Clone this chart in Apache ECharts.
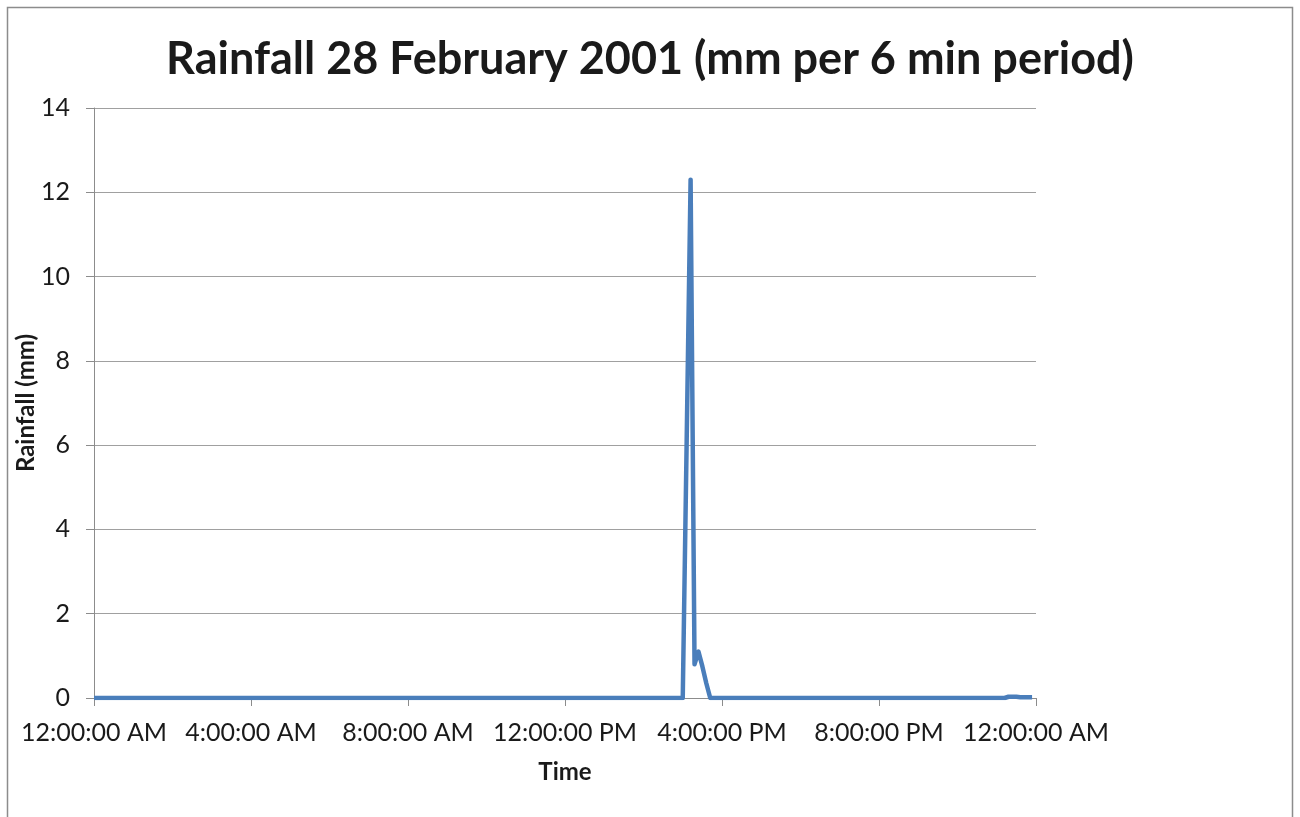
<!DOCTYPE html>
<html><head><meta charset="utf-8">
<script src="https://cdn.jsdelivr.net/npm/echarts@6/dist/echarts.min.js"></script>
<style>html,body{margin:0;padding:0;background:#fff}#c{width:1300px;height:817px}</style>
</head><body><div id="c"></div>
<script>
const titleText = 'Rainfall 28 February 2001 (mm per 6 min period)';
const yAxisName = 'Rainfall (mm)';
const xAxisName = 'Time';
// time of day in minutes for each 6-minute period start: 0, 6, ... 1434
const periodMinutes = 6;
// rainfall (mm) per 6 min period, 240 periods, 10 per row (one hour per row)
const rainfall = [
 0,0,0,0,0,0,0,0,0,0, // 00
 0,0,0,0,0,0,0,0,0,0, // 01
 0,0,0,0,0,0,0,0,0,0, // 02
 0,0,0,0,0,0,0,0,0,0, // 03
 0,0,0,0,0,0,0,0,0,0, // 04
 0,0,0,0,0,0,0,0,0,0, // 05
 0,0,0,0,0,0,0,0,0,0, // 06
 0,0,0,0,0,0,0,0,0,0, // 07
 0,0,0,0,0,0,0,0,0,0, // 08
 0,0,0,0,0,0,0,0,0,0, // 09
 0,0,0,0,0,0,0,0,0,0, // 10
 0,0,0,0,0,0,0,0,0,0, // 11
 0,0,0,0,0,0,0,0,0,0, // 12
 0,0,0,0,0,0,0,0,0,0, // 13
 0,0,0,0,0,0,0,0,0,0, // 14
 0,6.1,12.3,0.8,1.1,0.75,0.35,0,0,0, // 15
 0,0,0,0,0,0,0,0,0,0, // 16
 0,0,0,0,0,0,0,0,0,0, // 17
 0,0,0,0,0,0,0,0,0,0, // 18
 0,0,0,0,0,0,0,0,0,0, // 19
 0,0,0,0,0,0,0,0,0,0, // 20
 0,0,0,0,0,0,0,0,0,0, // 21
 0,0,0,0,0,0,0,0,0,0, // 22
 0,0,0,0.03,0.03,0.03,0.02,0.02,0.02,0.02 // 23
];
const xTickLabels = ['12:00:00 AM','4:00:00 AM','8:00:00 AM','12:00:00 PM','4:00:00 PM','8:00:00 PM','12:00:00 AM'];
const yTicks = [0,2,4,6,8,10,12,14];

const data = rainfall.map((v,i)=>[i*periodMinutes, v]);
const chart = echarts.init(document.getElementById('c'));
const font = 'Lato, "Open Sans", sans-serif';
chart.setOption({
  animation:false,
  graphic:[{type:'rect',shape:{x:7.5,y:7.5,width:1285,height:840},style:{fill:'none',stroke:'#8c8c8c',lineWidth:1.5},z:-1}],
  title:{text:titleText,left:'center',top:32,textStyle:{fontFamily:font,fontWeight:'bold',fontSize:45,color:'#1a1a1a'}},
  grid:{left:94,right:264,top:108,bottom:119,containLabel:false,outerBoundsMode:'none'},
  xAxis:{type:'value',min:0,max:1440,interval:240,
    name:xAxisName,nameLocation:'middle',nameGap:62,nameMoveOverlap:false,
    nameTextStyle:{fontFamily:font,fontWeight:'bold',fontSize:24,color:'#1a1a1a'},
    axisLine:{show:true,onZero:false,lineStyle:{color:'#8c8c8c',width:1}},
    axisTick:{show:true,length:8,lineStyle:{color:'#8c8c8c'}},
    axisLabel:{fontFamily:font,fontSize:25,color:'#1a1a1a',margin:22,
      formatter:(v)=>xTickLabels[Math.round(v/240)]},
    splitLine:{show:false}},
  yAxis:{type:'value',min:0,max:14,interval:2,
    name:yAxisName,nameLocation:'middle',nameGap:56,nameMoveOverlap:false,
    nameTextStyle:{fontFamily:font,fontWeight:'bold',fontSize:24,color:'#1a1a1a'},
    axisLine:{show:true,lineStyle:{color:'#8c8c8c',width:1}},
    axisTick:{show:true,length:8,lineStyle:{color:'#8c8c8c'}},
    axisLabel:{fontFamily:font,fontSize:25,color:'#1a1a1a',margin:24},
    splitLine:{show:true,lineStyle:{color:'#a0a0a0',width:1}}},
  series:[{type:'line',data:data,showSymbol:false,symbol:'none',
    lineStyle:{color:'#4a7ebb',width:4.5,join:'round'},itemStyle:{color:'#4a7ebb'}}]
});
</script></body></html>
